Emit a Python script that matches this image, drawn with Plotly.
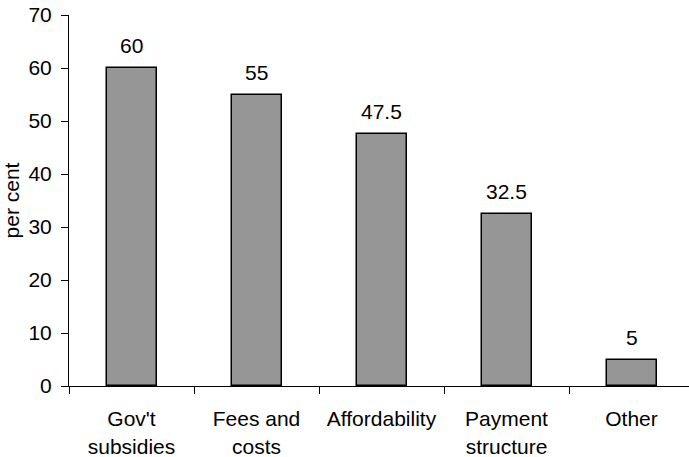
import plotly.graph_objects as go

categories = ["Gov't<br>subsidies", "Fees and<br>costs", "Affordability", "Payment<br>structure", "Other"]
values = [60, 55, 47.5, 32.5, 5]
labels = ["60", "55", "47.5", "32.5", "5"]

FONT = "Liberation Sans, Arial, sans-serif"
FS = 21

fig = go.Figure()
fig.add_trace(go.Bar(
    x=list(range(len(categories))),
    y=values,
    width=0.4,
    marker=dict(color="#969696", line=dict(color="#000000", width=1.5)),
    hoverinfo="skip",
))

for i, (v, t) in enumerate(zip(values, labels)):
    fig.add_annotation(x=i, y=v, text=t, showarrow=False, yanchor="bottom",
                       yshift=9, font=dict(family=FONT, size=FS, color="#000"))

fig.update_layout(
    width=689, height=457,
    margin=dict(l=69, r=0, t=15, b=71),
    paper_bgcolor="white", plot_bgcolor="white",
    showlegend=False,
    font=dict(family=FONT, size=FS, color="#000"),
    bargap=0,
)
fig.update_xaxes(
    range=[-0.5, 4.46],
    tickmode="array",
    tickvals=list(range(len(categories))),
    ticktext=categories,
    showline=True, linecolor="#000", linewidth=1,
    ticks="", showgrid=False, zeroline=False,
    tickfont=dict(family=FONT, size=FS),
    ticklabelstandoff=14,
)
fig.update_xaxes(minor=dict(tickvals=[-0.5, 0.5, 1.5, 2.5, 3.5], ticks="outside",
                            ticklen=7, tickcolor="#000", tickwidth=1))
fig.update_yaxes(
    range=[0, 70], dtick=10,
    showline=True, linecolor="#000", linewidth=1,
    ticks="outside", ticklen=7, tickcolor="#000",
    showgrid=False, zeroline=False,
    title=dict(text="per cent", font=dict(family=FONT, size=FS), standoff=3),
    tickfont=dict(family=FONT, size=FS),
    ticklabelstandoff=5,
)

fig.write_html("out.html")
